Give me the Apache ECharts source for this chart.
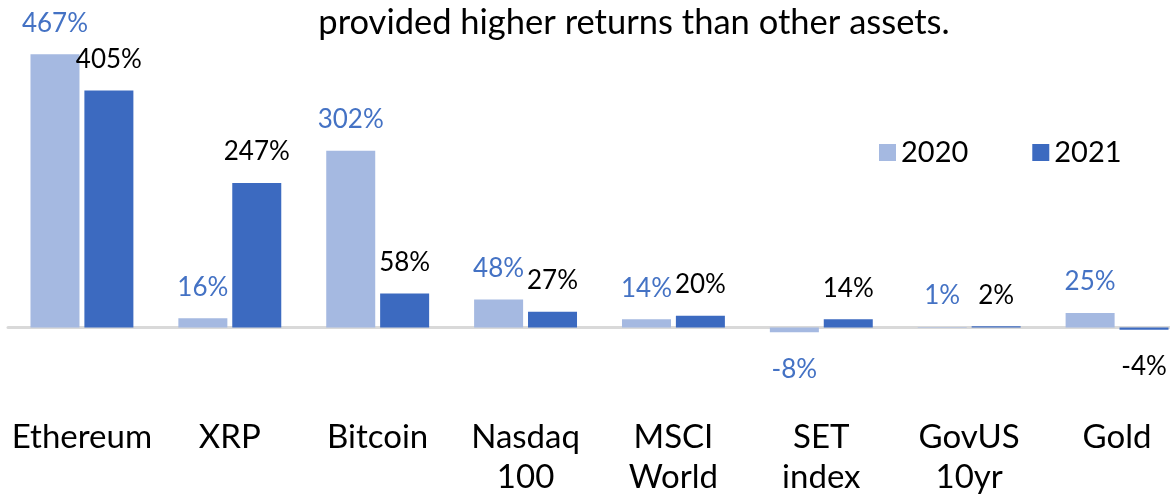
<!DOCTYPE html>
<html lang="en">
<head>
<meta charset="utf-8">
<title>Returns 2020 vs 2021</title>
<script src="https://cdn.jsdelivr.net/npm/echarts@6/dist/echarts.min.js"></script>
<style>
html,body{margin:0;padding:0;background:#fff;overflow:hidden;}
#main{width:1170px;height:497px;}
</style>
</head>
<body>
<div id="main"></div>
<script>
var categories = ['Ethereum', 'XRP', 'Bitcoin', 'Nasdaq\n100', 'MSCI\nWorld', 'SET\nindex', 'GovUS\n10yr', 'Gold'];
var values2020 = [467, 16, 302, 48, 14, -8, 1, 25];
var values2021 = [405, 247, 58, 27, 20, 14, 2, -4];

var FONT = 'Lato';

// negative bars get their label underneath
function withLabels(arr) {
  return arr.map(function (v) {
    if (v < 0) {
      return { value: v, label: { position: 'bottom', distance: 24 } };
    }
    return v;
  });
}

var chart = echarts.init(document.getElementById('main'));
chart.setOption({
  animation: false,
  textStyle: { fontFamily: FONT },
  title: {
    text: 'provided higher returns than other assets.',
    left: 629,
    textAlign: 'center',
    top: 0,
    textStyle: { fontFamily: FONT, fontSize: 34.5, fontWeight: 'normal', color: '#000' }
  },
  legend: {
    left: 874,
    top: 133,
    itemWidth: 17,
    itemHeight: 17,
    itemGap: 64,
    icon: 'rect',
    textStyle: { fontFamily: FONT, fontSize: 29, color: '#000' },
    data: ['2020', '2021']
  },
  grid: { left: 8, width: 1183, top: 35, bottom: 111, outerBoundsMode: 'none', containLabel: false },
  xAxis: {
    type: 'category',
    data: categories,
    axisLine: { onZero: true, lineStyle: { color: '#D9D9D9', width: 3 } },
    axisTick: { show: false },
    axisLabel: { margin: 31, fontFamily: FONT, fontSize: 33, color: '#000', lineHeight: 40, interval: 0 }
  },
  yAxis: {
    type: 'value',
    min: -100,
    max: 500,
    show: false,
    splitLine: { show: false }
  },
  series: [
    {
      name: '2020',
      type: 'bar',
      data: withLabels(values2020),
      barWidth: 49,
      barGap: '10%',
      itemStyle: { color: '#A5B9E1' },
      label: {
        show: true, position: 'top', distance: 18,
        formatter: '{c}%', fontFamily: FONT, fontSize: 26, color: '#4472C4'
      }
    },
    {
      name: '2021',
      type: 'bar',
      data: withLabels(values2021),
      barWidth: 49,
      itemStyle: { color: '#3C6AC0' },
      label: {
        show: true, position: 'top', distance: 18,
        formatter: '{c}%', fontFamily: FONT, fontSize: 26, color: '#000'
      }
    }
  ]
});
</script>
</body>
</html>
